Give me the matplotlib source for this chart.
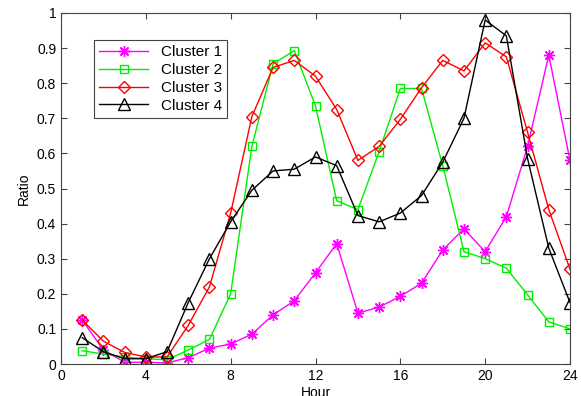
import numpy as np
import matplotlib
matplotlib.use('Agg')
import matplotlib.pyplot as plt

plt.rcParams['font.family'] = ['Liberation Sans', 'DejaVu Sans']

##hours and the ratio for every cluster
hours = list(range(1, 25))
cluster1 = [0.125, 0.04, 0.005, 0.005, 0.003, 0.018, 0.045, 0.057, 0.085, 0.14, 0.18, 0.26,
            0.343, 0.145, 0.162, 0.193, 0.23, 0.325, 0.385, 0.32, 0.42, 0.62, 0.88, 0.58]
cluster2 = [0.038, 0.028, 0.02, 0.015, 0.012, 0.04, 0.07, 0.2, 0.62, 0.855, 0.893, 0.735,
            0.465, 0.44, 0.605, 0.785, 0.785, 0.565, 0.32, 0.30, 0.273, 0.197, 0.12, 0.1]
cluster3 = [0.125, 0.065, 0.033, 0.02, 0.02, 0.11, 0.22, 0.43, 0.705, 0.845, 0.865, 0.82,
            0.725, 0.58, 0.62, 0.697, 0.787, 0.865, 0.835, 0.915, 0.875, 0.66, 0.44, 0.27]
cluster4 = [0.075, 0.035, 0.015, 0.015, 0.035, 0.175, 0.3, 0.405, 0.495, 0.55, 0.555, 0.59,
            0.565, 0.423, 0.405, 0.43, 0.48, 0.575, 0.70, 0.98, 0.935, 0.585, 0.33, 0.175]
labels = ['Cluster 1', 'Cluster 2', 'Cluster 3', 'Cluster 4']
xticks = [0, 4, 8, 12, 16, 20, 24]
yticks = [0, 0.1, 0.2, 0.3, 0.4, 0.5, 0.6, 0.7, 0.8, 0.9, 1]
yticklabels = ['0', '0.1', '0.2', '0.3', '0.4', '0.5', '0.6', '0.7', '0.8', '0.9', '1']

fig = plt.figure(figsize=(5.81, 3.96), dpi=100)
ax = fig.add_axes([61/581, 1-364/396, 509/581, 351/396])

##asterisk marker like matlab (8 thin arms)
ax.plot(hours, cluster1, '-', marker=(8, 2, 0), color='#ff00ff', lw=1, ms=8, mew=1, label=labels[0])
ax.plot(hours, cluster2, '-s', color='#00ee00', lw=1, ms=6, mfc='none', mew=1, label=labels[1])
ax.plot(hours, cluster3, '-D', color='#ff0000', lw=1, ms=6, mfc='none', mew=1, label=labels[2])
ax.plot(hours, cluster4, '-^', color='black', lw=1, ms=8, mfc='none', mew=1, label=labels[3])

ax.set_xlim(0, 24)
ax.set_ylim(0, 1)
ax.set_xticks(xticks)
ax.set_yticks(yticks)
ax.set_yticklabels(yticklabels)
ax.tick_params(direction='in', top=True, right=True, labelsize=10, length=4, color='#444444')
for s in ax.spines.values():
    s.set_color('#444444')
ax.set_xlabel('Hour', fontsize=10, labelpad=2)
ax.set_ylabel('Ratio', fontsize=10)

leg = ax.legend(loc='upper left', bbox_to_anchor=(0.05, 0.945), fontsize=11,
                fancybox=False, edgecolor='#444444', framealpha=1,
                handlelength=3.2, borderpad=0.35, labelspacing=0.25)
leg.get_frame().set_linewidth(0.8)

fig.savefig('out.png', dpi=100)
